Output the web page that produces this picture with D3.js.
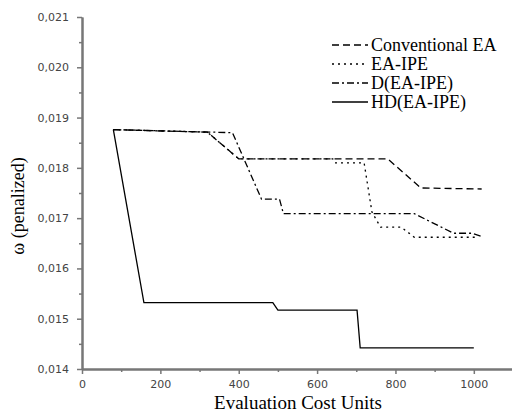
<!DOCTYPE html>
<html>
<head>
<meta charset="utf-8">
<script src="https://cdnjs.cloudflare.com/ajax/libs/d3/7.8.5/d3.min.js"></script>
<style>
    body { margin: 0; background: #fff; }
    .tick text { font-family: "DejaVu Sans", sans-serif; font-size: 11px; fill: #444; }
    .axis path, .axis line { stroke: #777; }
    .serif { font-family: 'Liberation Serif', serif; fill: #000; }
</style>
</head>
<body>
<svg id="chart" width="512" height="414"></svg>
<script>
    'use strict';

    // series (x = evaluation cost units, y = penalized omega)
    var seriesNames = ['Conventional EA', 'EA-IPE', 'D(EA-IPE)', 'HD(EA-IPE)'];

    var conventionalX = [80, 320, 400, 780, 865, 1020];
    var conventionalY = [0.01876, 0.01871, 0.01818, 0.01818, 0.01760, 0.01758];

    var eaIpeX = [80, 320, 400, 640, 645, 720, 740, 762, 815, 848, 1005];
    var eaIpeY = [0.01876, 0.01871, 0.01818, 0.01818, 0.01810, 0.01810, 0.01712, 0.01682, 0.01682, 0.01662, 0.01662];

    var dEaIpeX = [80, 384, 458, 504, 514, 848, 948, 995, 1022];
    var dEaIpeY = [0.01876, 0.01870, 0.01738, 0.01738, 0.01709, 0.01709, 0.01670, 0.01670, 0.01663];

    var hdEaIpeX = [80, 158, 487, 500, 702, 710, 1000];
    var hdEaIpeY = [0.01876, 0.01532, 0.01532, 0.01517, 0.01517, 0.01442, 0.01442];

    var xTicks = [0, 200, 400, 600, 800, 1000];
    var xMinorTicks = [100, 300, 500, 700, 900];
    var yTicks = [0.014, 0.015, 0.016, 0.017, 0.018, 0.019, 0.020, 0.021];
    var yMinorTicks = [0.0145, 0.0155, 0.0165, 0.0175, 0.0185, 0.0195, 0.0205];

    var dashes = ['7,4', '2,4', '7,3,2,3', null];

    var svg = d3.select('#chart');
    var plotLeft = 82, plotTop = 17, plotBottom = 369, plotRight = 513;

    var x = d3.scaleLinear().domain([0, 1100]).range([plotLeft, plotRight]);
    var y = d3.scaleLinear().domain([0.014, 0.021]).range([plotBottom, plotTop]);

    var fmt = function (d) {
        return d3.format('.3f')(d).replace('.', ',');
    };

    // minor ticks first, then the labelled axes on top
    svg.append('g').attr('class', 'axis').attr('transform', 'translate(0,' + plotBottom + ')')
        .call(d3.axisBottom(x).tickValues(xMinorTicks).tickSize(3).tickSizeOuter(0).tickFormat(''));
    svg.append('g').attr('class', 'axis').attr('transform', 'translate(' + plotLeft + ',0)')
        .call(d3.axisLeft(y).tickValues(yMinorTicks).tickSize(3).tickSizeOuter(0).tickFormat(''));

    svg.append('g').attr('class', 'axis').attr('transform', 'translate(0,' + plotBottom + ')')
        .call(d3.axisBottom(x).tickValues(xTicks).tickSize(5).tickSizeOuter(0).tickPadding(6).tickFormat(d3.format('d')));
    svg.append('g').attr('class', 'axis').attr('transform', 'translate(' + plotLeft + ',0)')
        .call(d3.axisLeft(y).tickValues(yTicks).tickSize(5).tickSizeOuter(0).tickPadding(8).tickFormat(fmt));
    svg.selectAll('.axis path').attr('stroke-width', 2);
    svg.selectAll('.axis line').attr('stroke-width', 1.5);

    var toPoints = function (xs, ys) {
        return xs.map(function (d, i) { return [d, ys[i]]; });
    };
    var series = [
        toPoints(conventionalX, conventionalY),
        toPoints(eaIpeX, eaIpeY),
        toPoints(dEaIpeX, dEaIpeY),
        toPoints(hdEaIpeX, hdEaIpeY)
    ];

    var line = d3.line()
        .x(function (d) { return x(d[0]); })
        .y(function (d) { return y(d[1]); });

    svg.append('g').selectAll('path').data(series).join('path')
        .attr('d', line)
        .attr('fill', 'none')
        .attr('stroke', '#000')
        .attr('stroke-width', 1.3)
        .attr('stroke-dasharray', function (d, i) { return dashes[i]; });

    // legend
    var legend = svg.append('g').attr('transform', 'translate(332,45)');
    var rows = legend.selectAll('g').data(seriesNames).join('g')
        .attr('transform', function (d, i) { return 'translate(0,' + (i * 19) + ')'; });
    rows.append('line')
        .attr('x1', 0).attr('x2', 36).attr('y1', 0).attr('y2', 0)
        .attr('stroke', '#000').attr('stroke-width', 1.3)
        .attr('stroke-dasharray', function (d, i) { return dashes[i]; });
    rows.append('text').attr('class', 'serif')
        .attr('x', 39).attr('dy', '0.35em')
        .style('font-size', '18px')
        .text(function (d) { return d; });

    // axis titles
    svg.append('text').attr('class', 'serif')
        .attr('x', 298).attr('y', 409)
        .attr('text-anchor', 'middle')
        .style('font-size', '19px')
        .text('Evaluation Cost Units');
    svg.append('text').attr('class', 'serif')
        .attr('transform', 'translate(24,206) rotate(-90)')
        .attr('text-anchor', 'middle')
        .style('font-size', '18px')
        .text('ω (penalized)');
</script>
</body>
</html>
